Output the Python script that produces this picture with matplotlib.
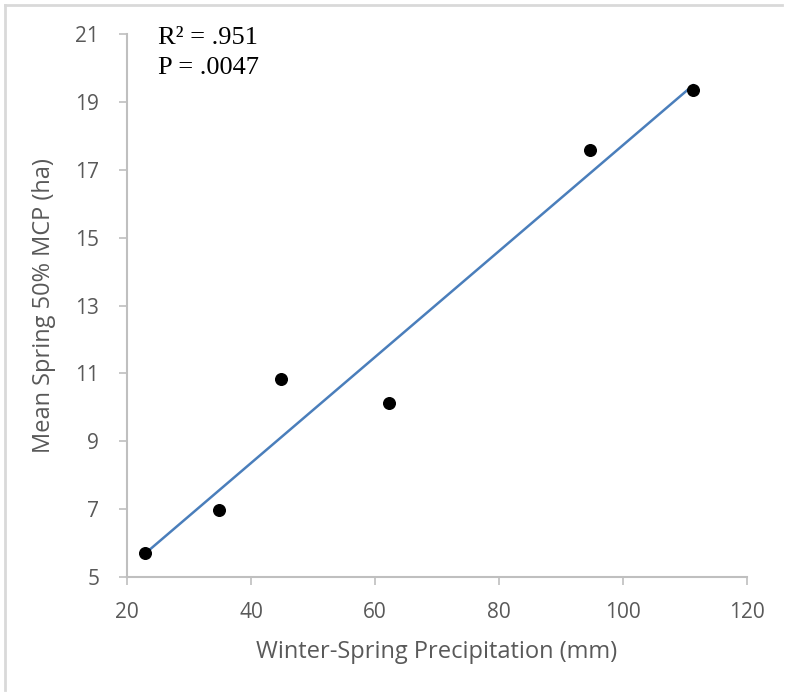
import numpy as np
import matplotlib.pyplot as plt
from matplotlib.lines import Line2D

# data
precip = [22.9, 34.8, 44.8, 62.3, 94.7, 111.3]
mcp50 = [5.71, 6.97, 10.83, 10.13, 17.58, 19.35]
x_ticks = [20, 40, 60, 80, 100, 120]
y_ticks = [5, 7, 9, 11, 13, 15, 17, 19, 21]

axis_grey = '#bfbfbf'
text_grey = '#595959'

fig = plt.figure(figsize=(7.86, 6.94), dpi=100)
ax = fig.add_axes([127/786, 1 - 577/694, (747 - 127)/786, (577 - 34)/694])

# linear trendline
slope, icpt = np.polyfit(precip, mcp50, 1)
xl = np.array([min(precip), max(precip)])
ax.plot(xl, slope*xl + icpt, color='#4a7ebb', lw=1.8, zorder=2)
ax.scatter(precip, mcp50, s=70, color='black', zorder=3)

ax.set_xlim(20, 120)
ax.set_ylim(5, 21)
ax.set_xticks(x_ticks)
ax.set_yticks(y_ticks)

for s in ['top', 'right']:
    ax.spines[s].set_visible(False)
for s in ['left', 'bottom']:
    ax.spines[s].set_color(axis_grey)
    ax.spines[s].set_linewidth(1.5)
ax.tick_params(colors=axis_grey, width=1.2, length=6, labelcolor=text_grey,
               labelsize=15)
ax.tick_params(axis='y', pad=14)
ax.tick_params(axis='x', pad=12)
for lab in ax.get_xticklabels() + ax.get_yticklabels():
    lab.set_family('Open Sans')

ax.set_xlabel('Winter-Spring Precipitation (mm)', fontsize=17, color=text_grey,
              family='Open Sans', labelpad=12)
ax.set_ylabel('Mean Spring 50% MCP (ha)', fontsize=17, color=text_grey,
              family='Open Sans', labelpad=14)

fig.text(158/786, 1 - 38/694, 'R\u00b2 = .951', fontsize=19, va='center',
         family='Liberation Serif', color='black')
fig.text(158/786, 1 - 68/694, 'P = .0047', fontsize=19, va='center',
         family='Liberation Serif', color='black')

# light frame around the chart area (top and left edges visible)
fig.add_artist(Line2D([5/786, 782/786], [1 - 5/694, 1 - 5/694], color='#d9d9d9', lw=2))
fig.add_artist(Line2D([5/786, 5/786], [1 - 5/694, 1 - 690/694], color='#d9d9d9', lw=2))

fig.savefig('out.png', dpi=100)
